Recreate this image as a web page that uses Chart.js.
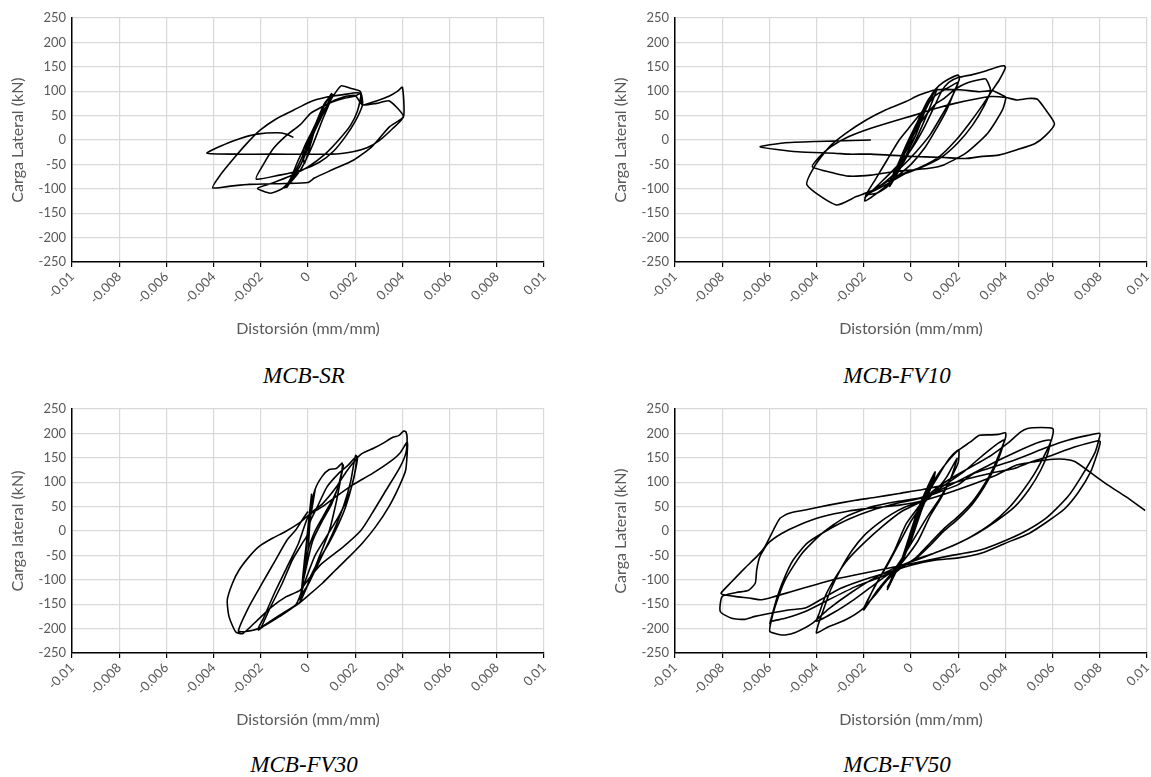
<!DOCTYPE html>
<html>
<head>
<meta charset="utf-8">
<script src="https://cdn.jsdelivr.net/npm/chart.js@4.4.1/dist/chart.umd.min.js"></script>
<style>
  html, body { margin: 0; padding: 0; background: #fff; width: 1151px; height: 777px; overflow: hidden; }
  .panel { position: absolute; width: 575px; height: 345px; }
  .cap {
    position: absolute; transform: translateX(-50%); white-space: nowrap; line-height: 1;
    font-family: "Liberation Serif", "Times New Roman", serif; font-style: italic; font-size: 23px; color: #000;
  }
</style>
</head>
<body>
<div class="panel" style="left:0;top:0"><canvas id="chartSR" width="575" height="345"></canvas></div>
<div class="panel" style="left:603px;top:0"><canvas id="chartFV10" width="575" height="345"></canvas></div>
<div class="panel" style="left:0;top:391px"><canvas id="chartFV30" width="575" height="345"></canvas></div>
<div class="panel" style="left:603px;top:391px"><canvas id="chartFV50" width="575" height="345"></canvas></div>
<div class="cap" style="left:304px;top:364px">MCB-SR</div>
<div class="cap" style="left:897px;top:364px">MCB-FV10</div>
<div class="cap" style="left:304px;top:753px">MCB-FV30</div>
<div class="cap" style="left:897px;top:753px">MCB-FV50</div>
<script>
// axis ticks
var xTickVals = [-0.01, -0.008, -0.006, -0.004, -0.002, 0, 0.002, 0.004, 0.006, 0.008, 0.01];
var xTickLabels = ['-0.01', '-0.008', '-0.006', '-0.004', '-0.002', '0', '0.002', '0.004', '0.006', '0.008', '0.01'];
var yTickVals = [-250, -200, -150, -100, -50, 0, 50, 100, 150, 200, 250];
var yTickLabels = ['-250', '-200', '-150', '-100', '-50', '0', '50', '100', '150', '200', '250'];

// hysteresis curves: [distorsion (mm/mm), carga lateral (kN)]
var curveSR = [
  [0,0],[0.0003,30],[0.0006,55],[0.0002,20],[-0.0002,-20],[-0.00015,-48],[0.0001,-10],[0.0004,40],[0.0008,80],[0.001,95],
  [0.0007,60],[0.0003,20],[-0.0002,-40],[-0.0006,-75],[-0.0009,-97],
  [-0.0006,-70],[-0.0002,-30],[0.0003,30],[0.0007,75],[0.00105,93],
  [0.0006,40],[0.0002,-10],[-0.0003,-60],[-0.0008,-90],[-0.001,-98],
  [-0.0007,-80],[-0.0003,-50],[0.0002,10],[0.0006,50],[0.001,85],[0.0014,111],[0.0018,106],[0.0022,100],[0.0023,85],[0.0023,70],
  [0.002,38],[0.0016,8],[0.0011,-22],[0.0005,-45],[-0.0003,-62],[-0.0012,-72],[-0.0022,-80],
  [-0.0019,-51],[-0.00146,-17],[-0.0009,10],[-0.00034,31],[0.00012,55],[0.0006,68],[0.00103,78],[0.0015,85],[0.002,90],[0.00225,96],
  [0.0021,60],[0.0018,30],[0.0013,0],[0.0007,-30],[0,-55],[-0.0008,-75],[-0.0015,-88],[-0.00214,-99],[-0.0016,-109],[-0.0011,-100],[-0.0008,-85],
  [-0.0004,-40],[0,0],[0.0004,40],[0.0009,75],[0.0015,88],[0.002,91],[0.0023,72],
  [0.0029,75],[0.00345,80],[0.00404,48],
  [0.00345,27],[0.0027,-14],[0.00194,-41],[0.00103,-61],[0.00027,-78],[0,-87],[-0.001,-89],[-0.0025,-91],[-0.0032,-94],[-0.00404,-98],
  [-0.00372,-72],[-0.00315,-38],[-0.00259,-7],[-0.00203,20],[-0.00132,44],[-0.00062,61],[0.00008,78],[0.0008,88],[0.0015,93],[0.0022,96],[0.0023,72],
  [0.0029,80],[0.00345,90],[0.0038,100],[0.004,108],[0.00405,48],
  [0.0036,24],[0.003,-2],[0.0025,-16],[0.0019,-24],[0.001,-29],[-0.0015,-29],[-0.003,-29],[-0.00428,-27],
  [-0.00358,-10],[-0.00287,3],[-0.00217,12],[-0.00132,15],[-0.0009,12],[-0.00062,5]
];

var curveFV10 = [
  [0,0],[0.0003,30],[0.0005,50],[0.0002,10],[-0.0003,-30],[-0.0005,-50],[-0.0002,-15],[0.0003,40],[0.0008,85],[0.001,100],
  [0.0006,60],[0.0002,10],[-0.0003,-40],[-0.0008,-85],[-0.001,-95],
  [-0.0006,-55],[-0.0002,-10],[0.0003,40],[0.0007,80],[0.0011,105],
  [0.0007,55],[0.0002,0],[-0.0003,-45],[-0.0009,-95],
  [-0.0005,-50],[0,0],[0.0005,55],[0.0009,95],[0.0012,112],[0.0016,125],[0.002,133],[0.00205,125],
  [0.0018,95],[0.0015,60],[0.0011,25],[0.0006,-15],[0,-50],[-0.0006,-75],[-0.0012,-100],[-0.00195,-125],
  [-0.0019,-112],[-0.0015,-80],[-0.001,-40],[-0.0005,0],[0,30],[0.0005,60],[0.001,90],[0.0015,105],[0.002,118],
  [0.0017,85],[0.0013,50],[0.0008,10],[0.0002,-25],[-0.0005,-60],[-0.0012,-90],[-0.0019,-112],[-0.0014,-108],[-0.001,-95],
  [-0.0006,-65],[-0.0002,-20],[0.0004,35],[0.001,72],[0.00139,85],[0.0019,105],[0.00232,116],[0.00294,124],[0.00317,125],[0.00337,102],
  [0.0031,70],[0.0026,30],[0.002,-5],[0.0013,-35],[0.0005,-55],[-0.0003,-70],[-0.001,-90],[-0.0018,-110],[-0.00195,-118],
  [-0.00124,-85],[-0.00062,-55],[0,-20],[0.0005,20],[0.001,70],[0.0013,100],[0.0016,118],[0.002,128],[0.0026,134],[0.0032,142],[0.0037,150],[0.00395,152],[0.004,148],
  [0.00374,123],[0.00346,103],[0.00304,72],[0.00247,34],[0.00191,0],[0.0012,-34],[0.00035,-57],[-0.00064,-75],[-0.00162,-103],[-0.00232,-116],[-0.00317,-133],[-0.00441,-92],
  [-0.0041,-55],[-0.00346,-14],[-0.00275,14],[-0.0019,41],[-0.00106,62],[-0.00021,79],[0.00035,92],[0.00106,103],[0.00205,103],[0.0029,99],[0.00346,101],[0.00386,92],[0.00402,88],
  [0.00387,61],[0.00325,14],[0.00232,-27],[0.00139,-51],[0.00077,-58],[0.00015,-61],[-0.00077,-65],[-0.0017,-72],[-0.00263,-74],[-0.00325,-68],[-0.00418,-55],
  [-0.00387,-34],[-0.0034,-14],[-0.00263,7],[-0.0017,24],[-0.00077,38],[0.00015,51],[0.00108,65],[0.00186,75],[0.00263,83],[0.0034,89],[0.00402,87],[0.00449,82],[0.00495,85],[0.00534,84],[0.00572,61],[0.00608,33],
  [0.00572,10],[0.00526,-7],[0.00449,-20],[0.00371,-31],[0.00294,-34],[0.00232,-38],[0.00139,-36],[-0.00015,-33],[-0.0017,-29],[-0.00263,-29],[-0.00325,-27],[-0.0048,-24],[-0.00639,-14],
  [-0.0054,-6],[-0.004,-3],[-0.0017,0]
];

var curveFV30 = [
  [0,0],[0.0001,45],[0.00015,75],[0.00005,30],[-0.0001,-40],[-0.0002,-100],[-0.0003,-140],[-0.00025,-110],[-0.0001,-50],[0,0],
  [0.0001,50],[0.0003,85],[0.0002,55],[0,0],[-0.00015,-60],[-0.0003,-135],[-0.0002,-100],[0,-40],[0.0001,30],
  [0.0003,85],[0.0006,112],[0.0009,126],[0.0012,128],[0.00145,139],[0.0014,110],[0.0011,70],[0.0007,35],[0.0003,0],[0,-40],[-0.0002,-100],[-0.00033,-142],
  [-0.0002,-130],[0.0001,-100],[0.0005,-50],[0.0009,0],[0.0012,60],[0.0014,110],[0.0015,135],[0.0013,95],[0.001,55],[0.0006,20],[0.0002,-20],[-0.0001,-80],[-0.0003,-130],
  [0,-110],[0.0005,-60],[0.001,-10],[0.0015,50],[0.0018,100],[0.00195,140],[0.00202,155],[0.0021,150],
  [0.00188,97],[0.0016,50],[0.00131,16],[0.00089,-25],[0.00047,-59],[0.00011,-93],[-0.0001,-121],[-0.00038,-148],[-0.00095,-165],[-0.00151,-182],[-0.0021,-203],
  [-0.002,-199],[-0.00165,-162],[-0.00109,-107],[-0.00066,-59],[-0.00024,-25],[-0.00003,-8],[0.0001,20],[0.0004,50],[0.0008,90],[0.0013,118],[0.0017,135],[0.00205,152],
  [0.00195,110],[0.0017,70],[0.0013,30],[0.0008,-10],[0.0003,-50],[-0.0001,-100],[-0.0005,-150],[-0.0012,-175],[-0.0021,-200],
  [-0.0019,-180],[-0.0014,-125],[-0.0009,-75],[-0.0004,-25],[0.00004,33],[0.0006,55],[0.0012,90],[0.0016,120],[0.002,145],[0.0023,159],[0.0028,170],[0.00315,179],[0.0036,192],[0.00386,196],[0.00406,205],[0.00415,203],[0.0042,190],
  [0.00415,160],[0.0039,131],[0.0033,83],[0.0027,35],[0.00224,1],[0.00148,-33],[0.00058,-67],[0,-100],[-0.00033,-121],[-0.00094,-135],[-0.00155,-156],[-0.00215,-183],[-0.00276,-210],[-0.00306,-207],
  [-0.00335,-175],[-0.00342,-141],[-0.0032,-107],[-0.00292,-80],[-0.0025,-53],[-0.00208,-32],[-0.00151,-15],[-0.00095,-1],[-0.00038,16],[0.00004,33],[0.00061,50],[0.00117,70],[0.00188,94],[0.0027,117],[0.00345,141],[0.0039,160],[0.0042,182],[0.00422,175],
  [0.00414,125],[0.00386,91],[0.00343,50],[0.00287,9],[0.0023,-25],[0.00174,-53],[0.00117,-80],[0.00061,-107],[0.00004,-131],[-0.00038,-148],[-0.00095,-165],[-0.00151,-182],[-0.0021,-200],[-0.00264,-206],[-0.00295,-205],
  [-0.0025,-155],[-0.00194,-107],[-0.00137,-59],[-0.00088,-18],[-0.00052,2],[-0.00024,23],[0,40]
];

var curveFV50 = [
  [0,0],[0.0003,40],[0.0005,65],[0.0002,20],[-0.0002,-40],[-0.0005,-75],[-0.0002,-30],[0.0003,45],[0.0007,90],[0.00102,121],
  [0.0009,95],[0.0005,50],[0,-20],[-0.0004,-60],[-0.0008,-95],[-0.001,-120],[-0.0008,-100],[-0.0003,-50],[0.0002,10],[0.0006,70],[0.001,118],
  [0.0008,85],[0.0003,25],[-0.0003,-55],[-0.0007,-90],[-0.001,-115],
  [-0.0006,-80],[-0.0002,-40],[0.0003,30],[0.0006,70],[0.001,100],[0.0015,140],[0.0018,158],[0.00202,166],[0.002,140],
  [0.0016,100],[0.0012,65],[0.0007,30],[0.0002,-10],[-0.0003,-50],[-0.0008,-85],[-0.0014,-120],[-0.0018,-148],[-0.002,-162],[-0.0019,-150],
  [-0.0015,-110],[-0.001,-70],[-0.0005,-25],[0,20],[0.0005,55],[0.001,80],[0.0015,110],[0.00195,149],
  [0.0017,110],[0.0013,70],[0.0008,30],[0.0003,-20],[-0.0003,-60],[-0.001,-100],[-0.0016,-135],[-0.002,-158],
  [-0.0016,-120],[-0.0012,-85],[-0.0007,-40],[-0.0002,15],[0.0004,55],[0.0008,90],[0.0012,120],[0.0016,145],[0.002,165],[0.0025,182],[0.0029,196],[0.0034,197],[0.0037,198],[0.00401,201],[0.004,190],
  [0.0038,165],[0.0035,130],[0.0031,95],[0.0026,60],[0.002,30],[0.0014,5],[0.0008,-25],[0.0002,-55],[-0.0004,-75],[-0.001,-100],[-0.0015,-130],[-0.00206,-160],[-0.00277,-182],[-0.00349,-196],[-0.004,-209],
  [-0.00395,-195],[-0.0037,-160],[-0.0034,-120],[-0.003,-80],[-0.0025,-40],[-0.002,-10],[-0.0014,15],[-0.0008,35],[-0.0002,50],[0.0004,60],[0.001,80],[0.0016,100],[0.0022,120],[0.0028,145],[0.0033,165],[0.0037,180],[0.00394,186],
  [0.0038,160],[0.0035,125],[0.0031,90],[0.0026,55],[0.002,25],[0.0014,0],[0.0008,-30],[0.0002,-57],[-0.0004,-72],[-0.001,-90],[-0.0017,-115],[-0.0024,-140],[-0.0032,-165],[-0.004,-185],
  [-0.0039,-170],[-0.0036,-130],[-0.0032,-95],[-0.0027,-60],[-0.002,-25],[-0.0012,10],[-0.0004,40],[0.0004,60],[0.001,85],[0.0016,105],[0.0022,122],[0.0028,138],[0.0034,155],[0.0041,180],[0.00465,203],[0.00494,210],[0.0055,212],[0.006,210],[0.00602,200],
  [0.0059,180],[0.0056,150],[0.0052,115],[0.0047,80],[0.0041,45],[0.0034,15],[0.0026,-10],[0.0018,-30],[0.001,-45],[0.0002,-60],[-0.0005,-72],[-0.0015,-95],[-0.0025,-125],[-0.0035,-160],[-0.0042,-190],[-0.0049,-208],[-0.00533,-213],[-0.0056,-212],[-0.00598,-206],
  [-0.00595,-190],[-0.00576,-155],[-0.00533,-100],[-0.00462,-46],[-0.00377,-5],[-0.00277,29],[-0.00164,50],[-0.00064,60],[0.0004,68],[0.0015,90],[0.0025,115],[0.0035,140],[0.0045,163],[0.0053,180],[0.0059,186],
  [0.0058,160],[0.0055,125],[0.005,85],[0.0044,50],[0.0036,20],[0.0028,-5],[0.002,-25],[0.001,-45],[0,-62],[-0.00092,-87],[-0.00235,-114],[-0.00349,-141],[-0.00448,-165],[-0.00533,-179],[-0.0059,-185],[-0.00598,-190],
  [-0.0059,-175],[-0.0057,-140],[-0.0054,-100],[-0.005,-60],[-0.0044,-25],[-0.0036,0],[-0.0026,25],[-0.0015,45],[-0.0005,58],[0.0005,68],[0.0012,80],[0.002,95],[0.00266,118],[0.00437,145],[0.00579,172],[0.00664,186],[0.0075,196],[0.008,200],[0.00795,185],
  [0.00778,159],[0.00721,111],[0.00664,70],[0.00579,29],[0.00494,2],[0.00408,-18],[0.00294,-39],[0.00152,-52],[0.0001,-66],[-0.00092,-76],[-0.00206,-87],[-0.00306,-97],[-0.00405,-110],[-0.00505,-124],[-0.00576,-134],[-0.00633,-141],[-0.00676,-138],[-0.00747,-134],[-0.008,-130],[-0.00805,-127],
  [-0.0076,-104],[-0.00704,-76],[-0.00647,-49],[-0.00619,-32],[-0.00583,2],[-0.00555,26],[-0.00519,36],[-0.00448,43],[-0.00349,53],[-0.00235,63],[-0.00149,69],[-0.0005,77],[0.0005,85],[0.0015,95],[0.0025,108],[0.0035,120],[0.00437,128],[0.005,140],[0.00579,152],[0.00693,172],[0.00792,185],[0.00802,183],
  [0.0079,160],[0.0076,120],[0.0071,80],[0.0065,45],[0.0058,20],[0.005,-5],[0.004,-25],[0.003,-45],[0.002,-55],[0.001,-60],[0,-70],[-0.001,-85],[-0.002,-100],[-0.003,-118],[-0.0038,-140],[-0.00448,-158],[-0.00519,-162],[-0.0059,-168],[-0.00661,-175],[-0.00704,-181],[-0.0076,-179],[-0.00808,-165],[-0.008,-134],
  [-0.0074,-126],[-0.0069,-122],[-0.0066,-107],[-0.00654,-80],[-0.0064,-52],[-0.00605,-25],[-0.00548,-5],[-0.00476,12],[-0.00377,29],[-0.00263,41],[-0.00149,48],[-0.0005,53],[0.0005,62],[0.002,85],[0.0035,112],[0.00448,135],[0.00526,142],[0.00603,147],[0.00649,147],[0.00696,142],[0.00757,121],[0.00835,94],[0.00912,70],[0.00992,42]
];

var TICK_GRAY = '#595959';
var GRID_GRAY = '#d9d9d9';
var FONT = 'Lato, "Open Sans", sans-serif';

function makeChart(canvasId, curve, yTitle) {
  return new Chart(document.getElementById(canvasId), {
    type: 'scatter',
    data: {
      datasets: [{
        data: curve.map(function (p) { return {x: p[0], y: p[1]}; }),
        showLine: true,
        borderColor: '#000',
        borderWidth: 1.6,
        pointRadius: 0,
        tension: 0.2,
        fill: false
      }]
    },
    options: {
      responsive: false,
      animation: false,
      devicePixelRatio: 1,
      layout: {padding: {top: 18, right: 31, bottom: 0, left: 0}},
      plugins: {legend: {display: false}, tooltip: {enabled: false}},
      scales: {
        x: {
          type: 'linear',
          min: -0.01,
          max: 0.01,
          afterBuildTicks: function (scale) {
            scale.ticks = xTickVals.map(function (v) { return {value: v}; });
          },
          afterFit: function (scale) { scale.height = 83; },
          ticks: {
            autoSkip: false,
            minRotation: 45,
            maxRotation: 45,
            padding: 2,
            color: TICK_GRAY,
            font: {family: FONT, size: 13},
            callback: function (v, i) { return xTickLabels[i]; }
          },
          grid: {color: GRID_GRAY, lineWidth: 1.2, tickLength: 5, tickColor: '#000'},
          border: {color: '#000', width: 1.5},
          title: {
            display: true,
            text: 'Distorsión (mm/mm)',
            color: TICK_GRAY,
            font: {family: FONT, size: 16},
            padding: {top: 0, bottom: 7}
          }
        },
        y: {
          min: -250,
          max: 250,
          afterBuildTicks: function (scale) {
            scale.ticks = yTickVals.map(function (v) { return {value: v}; });
          },
          afterFit: function (scale) { scale.width = 72; },
          ticks: {
            padding: 6,
            color: TICK_GRAY,
            font: {family: FONT, size: 13},
            callback: function (v, i) { return yTickLabels[i]; }
          },
          grid: {color: GRID_GRAY, lineWidth: 1.2, drawTicks: false},
          border: {color: '#000', width: 1.5},
          title: {
            display: true,
            text: yTitle,
            color: TICK_GRAY,
            font: {family: FONT, size: 16},
            padding: {top: 8, bottom: 0}
          }
        }
      }
    }
  });
}

makeChart('chartSR', curveSR, 'Carga Lateral (kN)');
makeChart('chartFV10', curveFV10, 'Carga Lateral (kN)');
makeChart('chartFV30', curveFV30, 'Carga lateral (kN)');
makeChart('chartFV50', curveFV50, 'Carga Lateral (kN)');
</script>
</body>
</html>
